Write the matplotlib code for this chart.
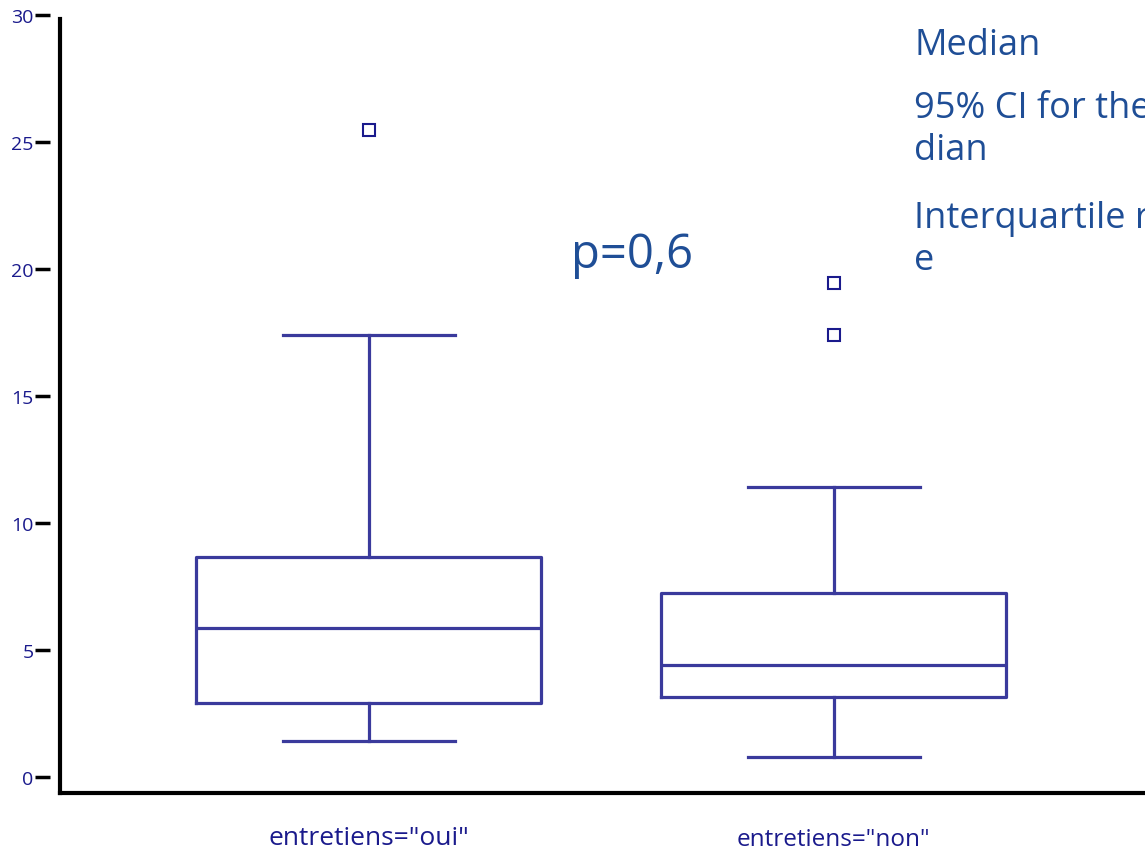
import matplotlib.pyplot as plt
from matplotlib.lines import Line2D

# box statistics
groups = ['entretiens="oui"', 'entretiens="non"']
whislo = [1.42, 0.79]
q1 = [2.91, 3.15]
med = [5.87, 4.41]
q3 = [8.66, 7.24]
whishi = [17.4, 11.42]
fliers = [[25.47], [19.45, 17.4]]
yticks = [0, 5, 10, 15, 20, 25, 30]
legend_lines = ["Median", "95% CI for the me\ndian", "Interquartile rang\ne"]
p_text = "p=0,6"

box_color = "#3a3a9c"
tick_color = "#1a1a8c"
text_color = "#1f4e96"

plt.rcParams['font.family'] = ['Open Sans', 'DejaVu Sans']

fig = plt.figure(figsize=(11.45, 8.53), dpi=100)
ax = fig.add_axes([60 / 1145, 59 / 853, 1085 / 1145, 778 / 853])

stats = []
for i in range(len(groups)):
    stats.append(dict(whislo=whislo[i], q1=q1[i], med=med[i], q3=q3[i],
                      whishi=whishi[i], fliers=fliers[i]))

ax.bxp(stats, positions=[1, 2], widths=0.742, showfliers=True,
       boxprops=dict(color=box_color, linewidth=2.3),
       medianprops=dict(color=box_color, linewidth=2.3),
       whiskerprops=dict(color=box_color, linewidth=2.3),
       capprops=dict(color=box_color, linewidth=2.3),
       capwidths=0.37,
       flierprops=dict(marker='s', markersize=8, markerfacecolor='white',
                       markeredgecolor=tick_color, markeredgewidth=1.5))

ax.set_xlim(0.3355, 2.669)
ax.set_ylim(-0.63, 30.0)

# spine position resets the ticks, so set it first
ax.spines['left'].set_position(('outward', 7))
ax.spines['left'].set_visible(False)
ax.spines['top'].set_visible(False)
ax.spines['right'].set_visible(False)
ax.spines['bottom'].set_linewidth(3)

ax.set_yticks(yticks)
ax.set_yticklabels([str(t) for t in yticks])
ax.tick_params(axis='y', direction='out', length=11, width=2.5, color='black',
               pad=1, labelsize=14, labelcolor=tick_color)

# vertical axis line drawn apart from the ticks
ax.add_line(Line2D([0, 0], [0, 0.995], transform=ax.transAxes, color='black',
                   linewidth=3, clip_on=False))

ax.set_xticks([1, 2])
ax.set_xticklabels([])
ax.tick_params(axis='x', length=0)
ax.text(1, -0.057, groups[0], transform=ax.get_xaxis_transform(), ha='center',
        va='center', fontsize=19, color=tick_color)
ax.text(2, -0.059, groups[1], transform=ax.get_xaxis_transform(), ha='center',
        va='center', fontsize=17.5, color=tick_color)

ax.text(1.434, 20.6, p_text, fontsize=34, color=text_color, ha='left', va='center')

fig.text(914 / 1145, 1 - 46 / 853, legend_lines[0], fontsize=26, color=text_color,
         ha='left', va='center')
fig.text(914 / 1145, 1 - 130 / 853, legend_lines[1], fontsize=26, color=text_color,
         ha='left', va='center', linespacing=1.25)
fig.text(914 / 1145, 1 - 240 / 853, legend_lines[2], fontsize=26, color=text_color,
         ha='left', va='center', linespacing=1.25)

fig.savefig("out.png", dpi=100)
